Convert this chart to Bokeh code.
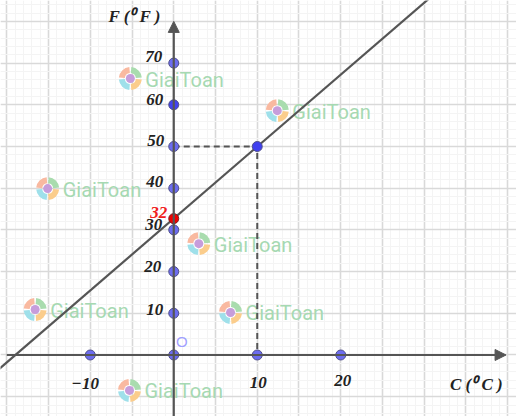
from bokeh.plotting import figure
from bokeh.models import Grid, FixedTicker, Arrow, NormalHead, ColumnDataSource
from bokeh.core.properties import value
from bokeh.embed import file_html
from bokeh.resources import INLINE

# data
x_major = [-25, -20, -15, -10, -5, 0, 5, 10, 15, 20, 25, 30, 35, 40]
x_minor = list(range(-25, 41))
y_major = [-20, -10, 0, 10, 20, 30, 40, 50, 60, 70, 80, 90]
y_minor = list(range(-20, 91, 2))

line_c = [-21, 31]
line_f = [-3.5, 86.2]

x_points = [-10, 0, 10, 20]
y_points = [10, 20, 30, 40, 50, 60, 70]
y_point_colors = ["#6c6cf0", "#6c6cf0", "#6c6cf0", "#6c6cf0", "#6c6cf0", "#4040f0", "#6c6cf0"]
corner_c, corner_f = 10, 50
red_c, red_f = 0, 32.7

y_tick_labels = ["10", "20", "30", "40", "50", "60", "70"]
y_label_dx = [-19, -21, -20, -19, -18, -19, -20]
y_label_dy = [-4, -5, -5, -7, -6, -5, -7]
x_tick_vals = [-10, 10, 20]
x_tick_labels = ["\u221210", "10", "20"]
x_label_dx = [-5, 1, 2]
x_label_dy = [29, 28, 26]

logo_c = [-5.2, -15.1, 3.0, 12.4, -16.6, 6.8, -5.3]
logo_f = [66.3, 39.9, 26.7, 58.6, 10.9, 10.2, -8.5]
wedge_colors = ["#a9dcae", "#fbcd8c", "#9fe0ea", "#f9b9a0"]
wedge_starts = [5, 275, 185, 95]
wedge_ends = [85, 355, 265, 175]

X0, X1 = -20.75, 41.05
Y0, Y1 = -14.75, 85.01

p = figure(width=516, height=416, x_range=(X0, X1), y_range=(Y0, Y1),
           x_axis_type=None, y_axis_type=None, toolbar_location=None,
           output_backend="svg", min_border=0, outline_line_color=None,
           background_fill_color="white", border_fill_color="white")

p.add_layout(Grid(dimension=0, ticker=FixedTicker(ticks=x_major, minor_ticks=x_minor),
                  grid_line_color="#d9d9d9", grid_line_width=1.6,
                  minor_grid_line_color="#f4f4f4", minor_grid_line_width=1))
p.add_layout(Grid(dimension=1, ticker=FixedTicker(ticks=y_major, minor_ticks=y_minor),
                  grid_line_color="#d9d9d9", grid_line_width=1.6,
                  minor_grid_line_color="#f4f4f4", minor_grid_line_width=1))

# watermark logos
for c, e, s in zip(wedge_colors, wedge_ends, wedge_starts):
    p.annular_wedge(x=logo_c, y=logo_f, inner_radius=5.5, outer_radius=11.5,
                    inner_radius_units="screen", outer_radius_units="screen",
                    start_angle=s, end_angle=e, start_angle_units="deg", end_angle_units="deg",
                    fill_color=c, line_color=None)
p.scatter(x=logo_c, y=logo_f, size=9, fill_color="#c79ddb", line_color=None)
p.text(x=logo_c, y=logo_f, text=["GiaiToan"] * len(logo_c), x_offset=15, y_offset=1,
       text_align="left", text_baseline="middle",
       text_font=value("Roboto"), text_font_size="20px", text_color="#a6d9b2")

# axes
p.add_layout(Arrow(end=NormalHead(size=11, fill_color="#555555", line_color="#555555"),
                   x_start=-20, y_start=0, x_end=39.8, y_end=0,
                   line_color="#555555", line_width=2.2))
p.add_layout(Arrow(end=NormalHead(size=11, fill_color="#555555", line_color="#555555"),
                   x_start=0, y_start=Y0, x_end=0, y_end=80,
                   line_color="#555555", line_width=2.2))

# line and dashed guides
p.line(line_c, line_f, line_color="#555555", line_width=2.2)
p.line([0, corner_c, corner_c], [corner_f, corner_f, 0], line_color="#555555",
       line_width=2, line_dash="6 4")

# points
p.scatter(x=x_points, y=[0] * len(x_points), size=10, fill_color="#6c6cf0", line_color="#50508a", line_width=1)
p.scatter(x=[0] * len(y_points), y=y_points, size=10, fill_color=y_point_colors, line_color="#50508a", line_width=1)
p.scatter(x=[corner_c], y=[corner_f], size=10, fill_color="#4040f0", line_color="#50508a", line_width=1)
p.scatter(x=[red_c], y=[red_f], size=10, fill_color="#f00000", line_color="#7a2020", line_width=1)

# labels
serif = value("Liberation Serif")
src_y = ColumnDataSource(dict(x=[0] * len(y_points), y=y_points, t=y_tick_labels, dx=y_label_dx, dy=y_label_dy))
p.text("x", "y", text="t", source=src_y, x_offset="dx", y_offset="dy", text_align="center", text_baseline="middle",
       text_font=serif, text_font_style="bold italic", text_font_size="17px", text_color="#222222")
src_x = ColumnDataSource(dict(x=x_tick_vals, y=[0] * 3, t=x_tick_labels, dx=x_label_dx, dy=x_label_dy))
p.text("x", "y", text="t", source=src_x, x_offset="dx", y_offset="dy", text_align="center", text_baseline="middle",
       text_font=serif, text_font_style="bold italic", text_font_size="17px", text_color="#222222")
p.text(x=[red_c], y=[red_f], text=["32"], x_offset=-15, y_offset=-6, text_align="center", text_baseline="middle",
       text_font=serif, text_font_style="bold italic", text_font_size="17px", text_color="#f02020")
p.text(x=[0], y=[0], text=["O"], x_offset=8, y_offset=-13, text_align="center", text_baseline="middle",
       text_font=value("Liberation Sans"), text_font_size="15px", text_color="#a0a0ff")
p.text(x=[0], y=[80], text=["F (\u2070 F )"], x_offset=-39, y_offset=-5, text_align="center", text_baseline="middle",
       text_font=serif, text_font_style="bold italic", text_font_size="17px", text_color="#222222")
p.text(x=[36], y=[0], text=["C (\u2070 C )"], x_offset=2, y_offset=30, text_align="center", text_baseline="middle",
       text_font=serif, text_font_style="bold italic", text_font_size="17px", text_color="#222222")

open("out.html", "w").write(file_html(p, INLINE))
